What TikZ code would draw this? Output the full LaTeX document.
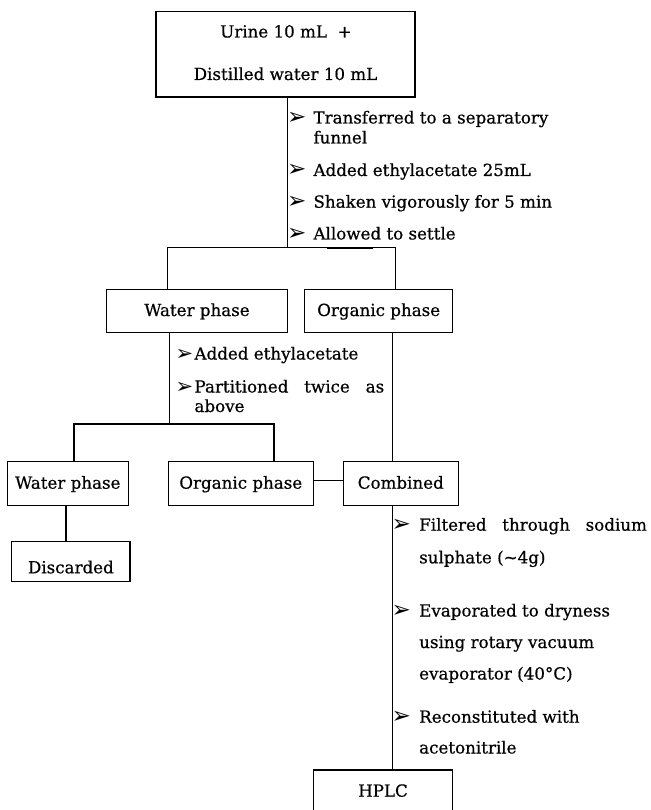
\documentclass[tikz,border=0pt]{standalone}
\usepackage{fontspec}
\setmainfont{DejaVu Serif}[FakeBold=0.6]
\newfontfamily\symfont{DejaVu Sans}
\begin{document}
\begin{tikzpicture}[x=1pt,y=-1pt,
  every node/.style={font=\fontsize{16.7}{20}\selectfont},
  bx/.style={draw, line width=1.2pt, inner sep=0pt, text height=12.5pt, text depth=2.5pt},
  txt/.style={inner sep=0pt, anchor=base west},
  txtc/.style={inner sep=0pt, anchor=base},
  arr/.style={inner sep=0pt, anchor=base west, font=\symfont\fontsize{23}{24}\selectfont},
  arrs/.style={inner sep=0pt, anchor=base west, font=\symfont\fontsize{21}{22}\selectfont},
  conn/.style={line width=1.1pt}]
\useasboundingbox (0,0) rectangle (650,810);
\clip (0,0) rectangle (650,810);
% boxes
\node[bx, minimum width=259pt, minimum height=85.3pt] (top) at (285.5,54.35) {};
\node[txtc] (t1) at (285.9,37.5) {Urine 10 mL\ \ +};
\node[txtc] (t2) at (285.5,80) {Distilled water 10 mL};
\node[bx, minimum width=180.6pt, minimum height=43.4pt] (wp1) at (197,311) {Water phase};
\node[bx, minimum width=148pt, minimum height=43.4pt] (op1) at (378.7,311) {Organic phase};
\node[bx, minimum width=121pt, minimum height=44pt] (wp2) at (67.8,483.7) {Water phase};
\node[bx, minimum width=145pt, minimum height=44pt] (op2) at (240.8,483.7) {Organic phase};
\node[bx, minimum width=115pt, minimum height=44pt] (comb) at (400.8,483.7) {Combined};
\node[bx, minimum width=118.3pt, minimum height=40.4pt, text height=26.1pt] (disc) at (70.85,561.5) {Discarded};
\node[bx, minimum width=139.4pt, minimum height=43.4pt] (hplc) at (383,791.7) {HPLC};
% junction coordinates
\coordinate (j1) at (287.5,247.5);
\coordinate (j1l) at (167.5,247.5);
\coordinate (j1r) at (395.5,247.5);
\coordinate (j2) at (169.5,424);
\coordinate (j2l) at (74,424);
\coordinate (j2r) at (274,424);
\coordinate (cx) at (392.5,0);
\coordinate (cy) at (0,480.5);
\coordinate (dx) at (66,0);
\coordinate (m1) at (326.7,248.6);
\coordinate (m2) at (373,248.6);
% connectors
\draw[conn] (top.south -| j1) -- (j1);
\draw[conn] (wp1.north -| j1l) -- (j1l) -- (j1r) -- (op1.north -| j1r);
\draw[line width=1.6pt] (m1) -- (m2);
\draw[conn] (wp1.south -| j2) -- (j2);
\draw[conn] (wp2.north -| j2l) -- (j2l) -- (j2r) -- (op2.north -| j2r);
\draw[conn] (op1.south -| cx) -- (comb.north -| cx);
\draw[conn] (op2.east |- cy) -- (comb.west |- cy);
\draw[conn] (wp2.south -| dx) -- (disc.north -| dx);
\draw[conn] (comb.south -| cx) -- (hplc.north -| cx);
% top steps
\node[arr] (a1) at (287,124.5) {➢};
\node[txt] (s1a) at (313.3,123.5) {Transferred to a separatory};
\node[txt] (s1b) at (313.3,143.5) {funnel};
\node[arr] (a2) at (287,177) {➢};
\node[txt] (s2) at (313.3,176) {Added ethylacetate 25mL};
\node[arr] (a3) at (287,208.7) {➢};
\node[txt] (s3) at (313.3,207.7) {Shaken vigorously for 5 min};
\node[arr] (a4) at (287,240.5) {➢};
\node[txt] (s4) at (313.3,239.5) {Allowed to settle};
% middle steps
\node[arrs] (a5) at (175.5,360.5) {➢};
\node[txt] (s5) at (194.3,359.5) {Added ethylacetate};
\node[arrs] (a6) at (175.5,393.5) {➢};
\node[txt] (s6a) at (194.3,392.5) {\makebox[189.7pt][s]{Partitioned twice as}};
\node[txt] (s6b) at (194.3,412) {above};
% bottom steps
\node[arr] (a7) at (391.5,531.7) {➢};
\node[txt] (s7a) at (419,530.7) {\makebox[227.7pt][s]{Filtered through sodium}};
\node[txt] (s7b) at (419,563.3) {sulphate (\textasciitilde 4g)};
\node[arr] (a8) at (391.5,617.5) {➢};
\node[txt] (s8a) at (419,616.5) {Evaporated to dryness};
\node[txt] (s8b) at (419,648) {using rotary vacuum};
\node[txt] (s8c) at (419,679.5) {evaporator (40°C)};
\node[arr] (a9) at (391.5,723.7) {➢};
\node[txt] (s9a) at (419,722.7) {Reconstituted with};
\node[txt] (s9b) at (419,753.5) {acetonitrile};
\end{tikzpicture}
\end{document}
